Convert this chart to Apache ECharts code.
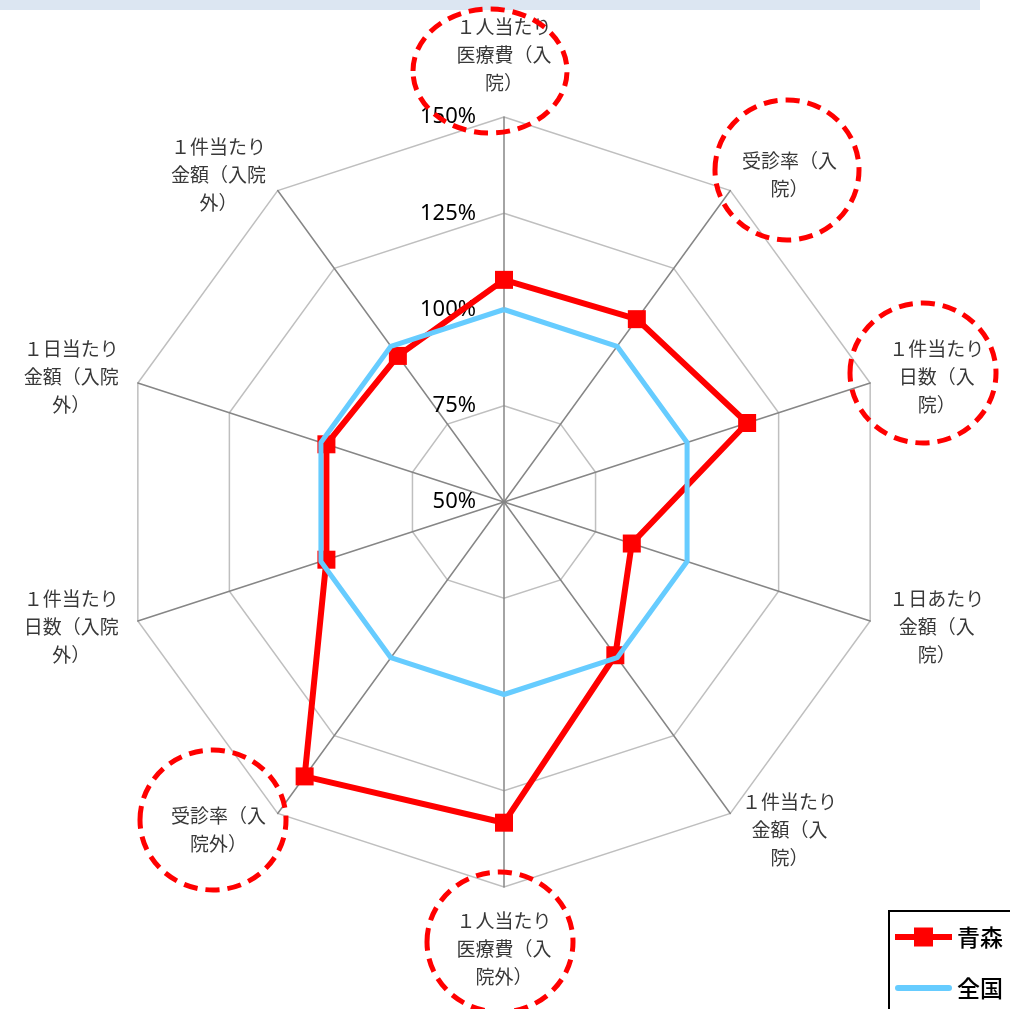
<!DOCTYPE html>
<html>
<head>
<meta charset="utf-8">
<script src="https://cdn.jsdelivr.net/npm/echarts@6/dist/echarts.min.js"></script>
<style>
  html, body { margin: 0; padding: 0; background: #fff; }
  #chart { width: 1010px; height: 1009px; }
</style>
</head>
<body>
<div id="chart"></div>
<script>
// Indicators in radar order (ECharts lays them out counter-clockwise from the top)
const indicatorNames = [
  '１人当たり\n医療費（入\n院）',
  '１件当たり\n金額（入院\n外）',
  '１日当たり\n金額（入院\n外）',
  '１件当たり\n日数（入院\n外）',
  '受診率（入\n院外）',
  '１人当たり\n医療費（入\n院外）',
  '１件当たり\n金額（入\n院）',
  '１日あたり\n金額（入\n院）',
  '１件当たり\n日数（入\n院）',
  '受診率（入\n院）'
];

// Ratio to the national level (%)
const aomoriValues   = [107.7, 96.9, 98.5, 98.5, 138.1, 133.3, 99.2, 84.9, 116.4, 108.7];
const nationalValues = [100, 100, 100, 100, 100, 100, 100, 100, 100, 100];

const seriesNames = ['青森', '全国'];
const scaleMin = 50;
const scaleMax = 150;
const scaleSplits = 4;

const RED = '#ff0000';
const BLUE = '#66ccff';
const NAME_FONT = '"Noto Sans CJK JP", sans-serif';

const chart = echarts.init(document.getElementById('chart'), null, { renderer: 'canvas' });

const indicators = indicatorNames.map((name, i) => {
  const ind = { name: name, min: scaleMin, max: scaleMax };
  // value labels only along the top spoke
  if (i === 0) {
    ind.axisLabel = {
      show: true,
      formatter: v => v + '%',
      color: '#000',
      fontSize: 22,
      fontFamily: '"Noto Sans", sans-serif',
      margin: 28
    };
  }
  return ind;
});

// dashed highlight rings drawn around selected axis names
const ring = (cx, cy, rx, ry) => ({
  type: 'ellipse',
  z: 100,
  silent: true,
  shape: { cx: cx, cy: cy, rx: rx, ry: ry },
  style: { fill: 'none', stroke: RED, lineWidth: 5, lineDash: [14, 8] }
});

const option = {
  backgroundColor: '#fff',
  animation: false,
  graphic: [
    { type: 'rect', z: 0, silent: true, shape: { x: 0, y: 0, width: 980, height: 10 }, style: { fill: '#dce6f2' } },
    ring(490, 71, 77, 62),
    ring(787, 170, 72, 70),
    ring(923, 373, 73, 70),
    ring(213, 820, 73, 70),
    ring(500, 942, 73, 70)
  ],
  legend: {
    orient: 'vertical',
    left: 889,
    top: 911,
    width: 200,
    height: 200,
    padding: [14, 14, 14, 6],
    borderColor: '#000',
    borderWidth: 2,
    itemWidth: 57,
    itemHeight: 19,
    itemGap: 27,
    textStyle: { fontSize: 23, color: '#000', fontFamily: NAME_FONT, fontWeight: 500, lineHeight: 24 },
    data: [
      { name: seriesNames[0], icon: 'path://M0,6.5L19,6.5L19,0L38,0L38,6.5L57,6.5L57,12.5L38,12.5L38,19L19,19L19,12.5L0,12.5Z' },
      { name: seriesNames[1], icon: 'path://M3,0L54,0A3,3,0,0,1,54,6L3,6A3,3,0,0,1,3,0Z' }
    ]
  },
  radar: {
    center: [504, 502],
    radius: 385,
    startAngle: 90,
    shape: 'polygon',
    splitNumber: scaleSplits,
    nameGap: 20,
    axisName: {
      color: '#383838',
      fontSize: 19,
      fontFamily: NAME_FONT,
      lineHeight: 28,
      formatter: name => name.split('\n').map(l => '{t|' + l + '}').join('\n'),
      rich: {
        t: { align: 'center', color: '#383838', fontSize: 19, lineHeight: 28, fontFamily: NAME_FONT }
      }
    },
    axisLine: { show: true, lineStyle: { color: '#868686', width: 1.5 } },
    splitLine: { show: true, lineStyle: { color: '#bfbfbf', width: 1.5 } },
    splitArea: { show: false },
    axisTick: { show: false },
    axisLabel: { show: false },
    indicator: indicators
  },
  series: [
    {
      name: seriesNames[0],
      type: 'radar',
      z: 2,
      symbol: 'rect',
      symbolSize: 18,
      itemStyle: { color: RED },
      lineStyle: { color: RED, width: 6 },
      data: [{ name: seriesNames[0], value: aomoriValues }]
    },
    {
      name: seriesNames[1],
      type: 'radar',
      z: 3,
      symbol: 'none',
      itemStyle: { color: BLUE },
      lineStyle: { color: BLUE, width: 5 },
      data: [{ name: seriesNames[1], value: nationalValues }]
    }
  ]
};

chart.setOption(option);
</script>
</body>
</html>
